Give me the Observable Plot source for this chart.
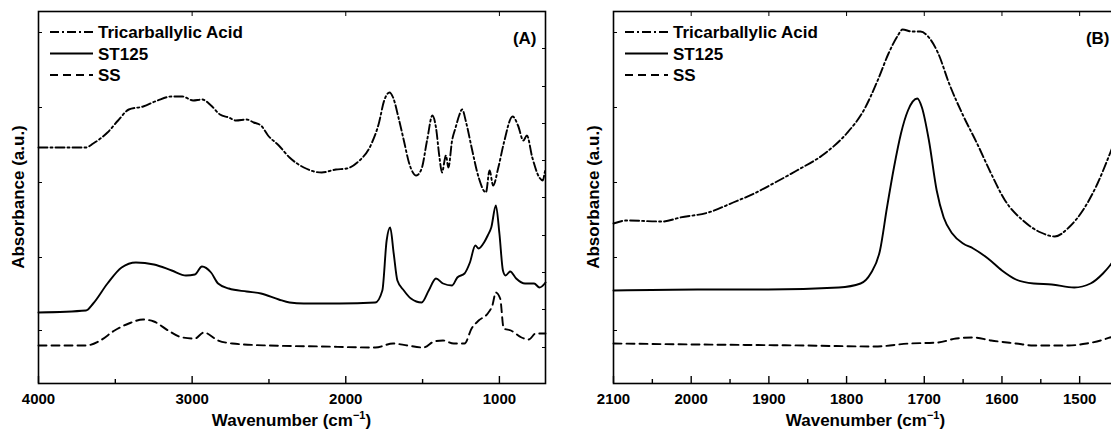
<!DOCTYPE html>
<html>
<head>
<meta charset="utf-8">
<script src="https://cdn.jsdelivr.net/npm/d3@7"></script>
<script src="https://cdn.jsdelivr.net/npm/@observablehq/plot@0.6"></script>
<style>
  html, body { margin: 0; padding: 0; background: #fff; overflow: hidden; width: 1111px; height: 431px; }
  #wrap { position: relative; width: 1111px; height: 431px; overflow: hidden; }
  #pa { position: absolute; left: 0; top: 0; width: 555px; }
  #pb { position: absolute; left: 555px; top: 0; width: 573px; }
  #wrap svg { max-width: none !important; }
  svg text { font-family: "Liberation Sans", Arial, sans-serif; font-weight: bold; }
</style>
</head>
<body>
<div id="wrap"><div id="pa"></div><div id="pb"></div></div>
<script>
// ---- Data (wavenumber cm^-1, absorbance a.u., offset-stacked) ----
const seriesNames = ["Tricarballylic Acid", "ST125", "SS"];

const taA = [[4000,236],[3691,236],[3644,240],[3551,251],[3482,263],[3412,274],[3319,277],[3226,283],[3133,287],[3063,287],[2994,283],[2936,284],[2877,278],[2819,269],[2761,266],[2715,263],[2645,264],[2599,261],[2552,258],[2506,248],[2436,238],[2366,226],[2273,216],[2157,211],[2064,214],[1994,215],[1925,221],[1832,240],[1785,260],[1750,283],[1715,291],[1692,286],[1657,266],[1622,243],[1587,220],[1541,208],[1506,215],[1471,243],[1436,268],[1413,256],[1390,226],[1374,211],[1348,228],[1332,216],[1308,243],[1285,256],[1262,268],[1243,274],[1215,260],[1181,236],[1135,206],[1088,191],[1064,213],[1041,198],[1007,216],[972,240],[914,267],[879,258],[844,243],[821,248],[786,226],[740,206],[717,203],[705,211],[700,214]];

const stA = [[4000,71],[3691,73],[3644,80],[3551,100],[3459,116],[3366,121],[3249,119],[3133,113],[3040,108],[2982,109],[2936,117],[2877,111],[2831,100],[2761,95],[2645,92],[2552,90],[2436,84],[2366,81],[2273,80],[2041,80],[1808,81],[1762,93],[1734,143],[1711,156],[1688,130],[1664,103],[1622,93],[1576,85],[1506,81],[1460,93],[1413,105],[1367,100],[1308,98],[1274,106],[1227,110],[1192,121],[1157,138],[1135,135],[1100,141],[1076,148],[1053,156],[1023,178],[1000,150],[977,113],[960,108],[930,112],[891,105],[833,100],[774,100],[739,96],[705,100],[700,101]];

const ssA = [[4000,38],[3691,38],[3598,43],[3505,53],[3412,60],[3319,64],[3249,62],[3156,53],[3063,46],[2982,45],[2924,51],[2831,43],[2738,40],[2506,38],[2157,37],[1808,36],[1692,40],[1599,38],[1494,36],[1425,42],[1367,43],[1297,40],[1227,40],[1181,55],[1135,63],[1076,70],[1046,78],[1023,91],[995,85],[972,55],[925,53],[856,46],[809,44],[763,50],[705,50],[700,50]];

const taB = [[2100,160],[2083,163],[2037,162],[2014,166],[1978,171],[1946,181],[1919,190],[1892,201],[1864,213],[1828,230],[1800,250],[1778,273],[1760,303],[1746,330],[1734,348],[1728,354],[1716,352],[1705,352],[1694,346],[1682,330],[1668,300],[1650,268],[1632,240],[1614,210],[1596,183],[1573,163],[1550,151],[1532,147],[1514,156],[1496,173],[1477,200],[1461,230],[1450,252]];

const stB = [[2100,93],[1992,94],[1901,94],[1810,96],[1782,100],[1769,110],[1757,133],[1748,176],[1739,216],[1730,250],[1721,273],[1709,285],[1703,276],[1694,243],[1684,193],[1675,166],[1664,150],[1650,140],[1637,135],[1618,125],[1600,113],[1582,104],[1559,100],[1536,99],[1507,96],[1486,100],[1470,110],[1461,118],[1450,130]];

const ssB = [[2100,40],[1992,39],[1855,38],[1764,37],[1719,40],[1682,41],[1659,45],[1637,46],[1614,43],[1582,40],[1559,38],[1514,38],[1491,40],[1473,43],[1461,46],[1450,49]];

const xMajorA = [4000, 3000, 2000, 1000];
const xMinorA = [3500, 2500, 1500];
const xMajorB = [2100, 2000, 1900, 1800, 1700, 1600, 1500];
const xMinorB = [2050, 1950, 1850, 1750, 1650, 1550];
const yTicksLeft = [53, 126, 201, 276, 351];
const yTicksRight = [36, 74, 111, 148, 186, 223, 260, 297, 335];

// ---- styles ----
const dashes = { "Tricarballylic Acid": "9,3,2,3", "ST125": null, "SS": "8,5" };
const noText = () => "";

function panel({ el, width, marginLeft, xDomain, majors, minors, data, tag, ylabelOffset }) {
  const rows = [];
  data.forEach((arr, i) => arr.forEach(([w, v]) => rows.push({ w, v, s: seriesNames[i] })));
  const marks = [
    Plot.frame({ stroke: "#000", strokeWidth: 1.6 }),
    Plot.axisX({ ticks: majors, tickSize: 0, tickPadding: 10, tickFormat: d => String(d), fontSize: 15, fontWeight: "bold", label: null, anchor: "bottom" }),
    Plot.axisX({ ticks: majors, tickSize: -7, tickFormat: noText, label: null, anchor: "bottom", strokeWidth: 1.4 }),
    Plot.axisX({ ticks: minors, tickSize: -4, tickFormat: noText, label: null, anchor: "bottom", strokeWidth: 1.4 }),
    Plot.axisX({ ticks: majors, tickSize: -4, tickFormat: noText, label: null, anchor: "top", strokeWidth: 1 }),
    Plot.axisY({ ticks: yTicksLeft, tickSize: -4, tickFormat: noText, label: null, anchor: "left", strokeWidth: 1 }),
    Plot.axisY({ ticks: yTicksRight, tickSize: -4, tickFormat: noText, label: null, anchor: "right", strokeWidth: 1 })
  ];
  seriesNames.forEach(name => {
    marks.push(Plot.line(rows.filter(d => d.s === name), {
      x: "w", y: "v", stroke: "#000", strokeWidth: 1.9, curve: "monotone-x",
      strokeDasharray: dashes[name] || undefined
    }));
  });
  marks.push(Plot.text([tag], { text: d => d, frameAnchor: "top-right", dx: -9, dy: 20, fontSize: 17, fontWeight: "bold", textAnchor: "end" }));

  const svg = Plot.plot({
    width, height: 431,
    marginLeft, marginRight: 10, marginTop: 11, marginBottom: 48,
    style: { fontFamily: "Liberation Sans, Arial, sans-serif", background: "transparent", overflow: "visible", maxWidth: "none" },
    x: { domain: xDomain, label: null },
    y: { domain: [0, 372], axis: null },
    marks
  });
  svg.style.maxWidth = "none";

  const s = d3.select(svg);
  const fl = marginLeft, fr = width - 10, ft = 11, fb = 383;
  const xl = s.append("text").attr("x", (fl + fr) / 2).attr("y", 426)
    .attr("text-anchor", "middle").attr("font-size", 17).attr("font-weight", "bold")
    .attr("font-family", "Liberation Sans, Arial, sans-serif");
  xl.append("tspan").text("Wavenumber (cm");
  xl.append("tspan").attr("dy", -7).attr("font-size", 11).text("\u22121");
  xl.append("tspan").attr("dy", 7).text(")");
  s.append("text").attr("transform", `translate(${fl - ylabelOffset},${(ft + fb) / 2}) rotate(-90)`)
    .attr("text-anchor", "middle").attr("font-size", 17).attr("font-weight", "bold")
    .attr("font-family", "Liberation Sans, Arial, sans-serif")
    .text("Absorbance (a.u.)");
  const lg = s.append("g").attr("transform", `translate(${fl + 12},0)`);
  seriesNames.forEach((name, i) => {
    const y = 32 + i * 21.5;
    lg.append("line").attr("x1", 0).attr("x2", 43).attr("y1", y).attr("y2", y)
      .attr("stroke", "#000").attr("stroke-width", 1.9)
      .attr("stroke-dasharray", dashes[name] || null);
    lg.append("text").attr("x", 48).attr("y", y + 6).attr("font-size", 17).attr("font-weight", "bold")
      .attr("text-anchor", "start")
      .attr("font-family", "Liberation Sans, Arial, sans-serif").text(name);
  });
  document.getElementById(el).appendChild(svg);
}

panel({ el: "pa", width: 555, marginLeft: 38, xDomain: [4000, 700], majors: xMajorA, minors: xMinorA,
        data: [taA, stA, ssA], tag: "(A)", ylabelOffset: 14 });
panel({ el: "pb", width: 573, marginLeft: 58, xDomain: [2100, 1450], majors: xMajorB, minors: xMinorB,
        data: [taB, stB, ssB], tag: "(B)", ylabelOffset: 14 });
</script>
</body>
</html>
